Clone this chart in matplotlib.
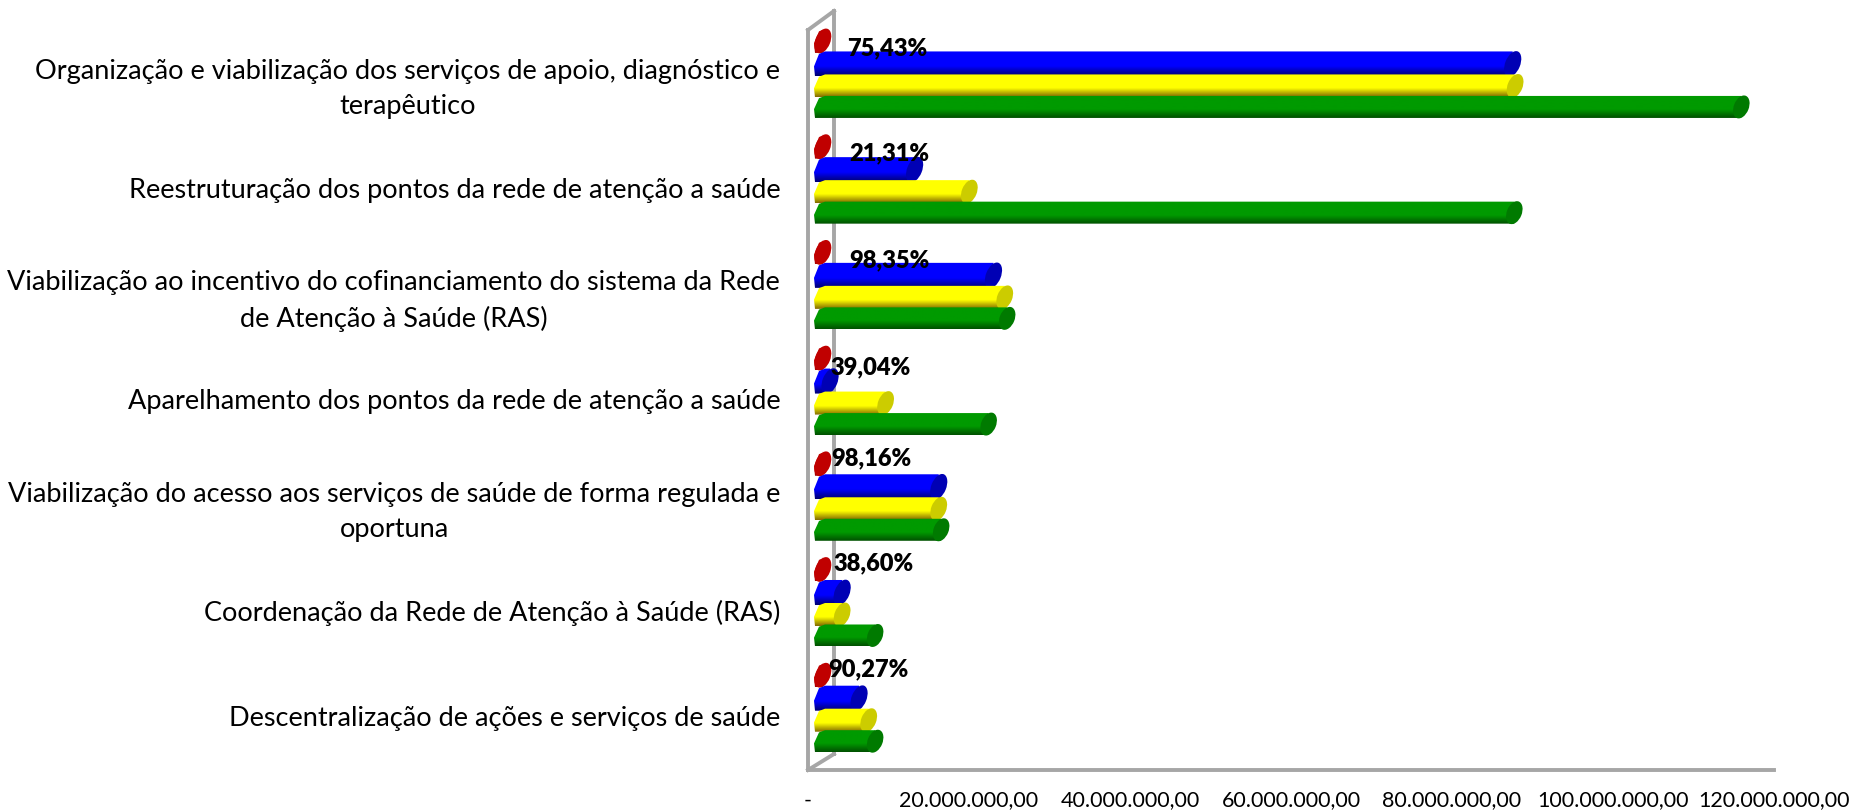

# plot.py - horizontal 3D-look cylinder bars, health network budget by action

import matplotlib
matplotlib.use("Agg")
import matplotlib.pyplot as plt
import numpy as np
from matplotlib.colors import LinearSegmentedColormap
from matplotlib.lines import Line2D
from matplotlib.patches import Ellipse, Polygon
from matplotlib.transforms import Affine2D, ScaledTranslation

W, H = 1852, 812

categories = [
    "Organização e viabilização dos serviços de apoio, diagnóstico e\nterapêutico",
    "Reestruturação dos pontos da rede de atenção a saúde",
    "Viabilização ao incentivo do cofinanciamento do sistema da Rede\nde Atenção à Saúde (RAS)",
    "Aparelhamento dos pontos da rede de atenção a saúde",
    "Viabilização do acesso aos serviços de saúde de forma regulada e\noportuna",
    "Coordenação da Rede de Atenção à Saúde (RAS)",
    "Descentralização de ações e serviços de saúde",
]
red_values = [100000, 100000, 100000, 100000, 100000, 100000, 100000]
blue_values = [85800000, 11500000, 21300000, 1000000, 14500000, 2500000, 4600000]
yellow_values = [86100000, 18300000, 22700000, 7900000, 14500000, 2500000, 5800000]
green_values = [114200000, 86000000, 23000000, 20700000, 14800000, 6600000, 6600000]
percent_labels = ["75,43%", "21,31%", "98,35%", "39,04%", "98,16%", "38,60%", "90,27%"]
x_ticks = [0, 20000000, 40000000, 60000000, 80000000, 100000000, 120000000]
x_tick_labels = ["-", "20.000.000,00", "40.000.000,00", "60.000.000,00",
                 "80.000.000,00", "100.000.000,00", "120.000.000,00"]

# label placement, in pixels from the axis origin and the category centre
label_dx = [39, 41, 41, 22, 23, 25, 20]
label_dy = [-37, -37, -36, -35, -49, -50, -50]

plt.rcParams["font.family"] = ["Lato", "DejaVu Sans"]

fig = plt.figure(figsize=(W / 100, H / 100), dpi=100)
ax = fig.add_axes([808 / W, 1 - 771 / H, (1774 - 808) / W, (771 - 12) / H])
ax.set_zorder(2)
ax.patch.set_alpha(0)

PX_X = 1e6 / 8.05
PX_Y = 1 / 105.7


def px_line(xs, ys):
    fig.add_artist(Line2D([x / W for x in xs], [1 - y / H for y in ys],
                          color="#a6a6a6", lw=2.8, zorder=1))


# back wall and side wall outline
px_line([808, 808], [31, 771])
px_line([834, 834], [12, 755])
px_line([808, 834], [31, 12])
px_line([808, 834], [771, 755])


def bar_cmap(light, dark):
    return LinearSegmentedColormap.from_list(
        "", [(0, light), (0.62, light), (1, dark)])


def draw_bar(row, value, dy, thick, light, dark, cap, zorder):
    depth = 14 * PX_X
    y = row + dy * PX_Y
    half = thick / 2 * PX_Y
    end = depth + value
    grad = np.linspace(0, 1, 64).reshape(-1, 1)
    img = ax.imshow(grad, extent=(0, end, y + half, y - half),
                    aspect="auto", cmap=bar_cmap(light, dark), zorder=zorder,
                    interpolation="bilinear")
    # slanted left end of the cylinder, the right end is hidden under the cap
    outline = Polygon([(depth + 3 * PX_X, y - half), (end, y - half), (end, y + half),
                       (7 * PX_X, y + half), (6 * PX_X, y + 0.2 * half),
                       (depth - 3 * PX_X, y - 0.8 * half)],
                      transform=ax.transData, facecolor="none", edgecolor="none")
    ax.add_patch(outline)
    img.set_clip_path(outline)
    tr = Affine2D() + ScaledTranslation(end, y, ax.transData)
    ax.add_patch(Ellipse((0, 0), 15, thick + 2, angle=-22, facecolor=cap,
                         edgecolor="none", transform=tr, zorder=zorder + 0.1,
                         clip_on=False))


for i in range(len(categories)):
    draw_bar(i, red_values[i], -43, 24, "#c00000", "#a00000", "#c00000", 3)
    draw_bar(i, blue_values[i], -20, 25, "#0000ff", "#000070", "#0000b4", 4)
    draw_bar(i, yellow_values[i], 2, 23, "#ffff00", "#806a00", "#cccc00", 5)
    draw_bar(i, green_values[i], 23, 22, "#009a00", "#005000", "#007a00", 6)
    ax.annotate(percent_labels[i], xy=(0, i), xycoords="data",
                xytext=(label_dx[i] * 0.72, -label_dy[i] * 0.72),
                textcoords="offset points", va="center", ha="left",
                fontsize=17, fontweight="heavy", color="black", zorder=10)

ax.set_xlim(0, 120000000)
ax.set_ylim(6.49, -0.69)
ax.set_yticks(range(len(categories)))
ax.set_yticklabels(categories, ha="right", multialignment="center",
                   fontsize=19.5, linespacing=1.5)
ax.set_xticks(x_ticks)
ax.set_xticklabels(x_tick_labels, fontsize=15.5)
ax.tick_params(axis="y", length=0, pad=20)
ax.tick_params(axis="x", length=0, pad=14)
for side in ["top", "right", "left"]:
    ax.spines[side].set_visible(False)
ax.spines["bottom"].set_color("#a6a6a6")
ax.spines["bottom"].set_linewidth(2.8)

# nudge the category labels up a little
for lab in ax.get_yticklabels():
    lab.set_transform(lab.get_transform() + Affine2D().translate(0, 3))

fig.savefig("out.png", dpi=100)
